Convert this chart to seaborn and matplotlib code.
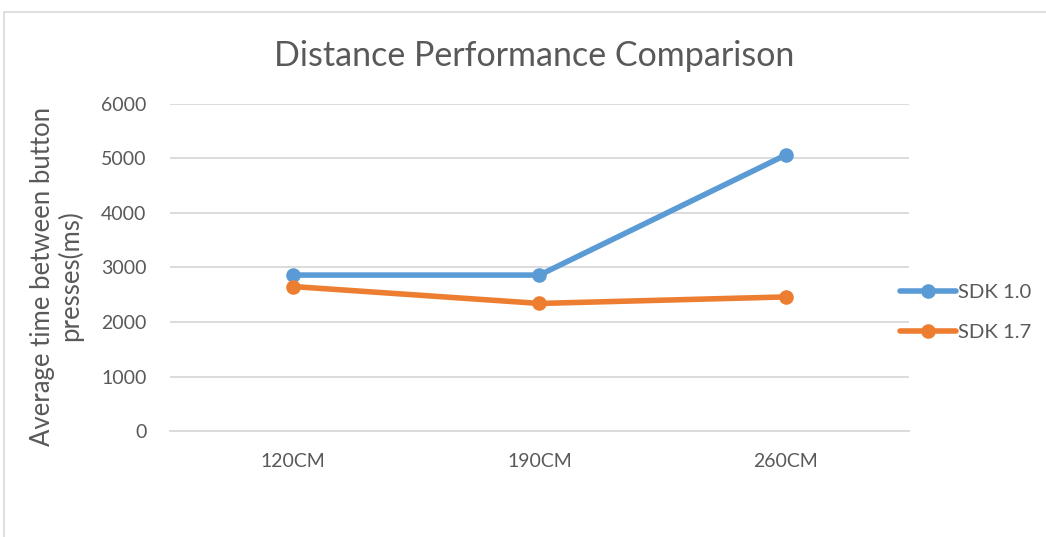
import matplotlib
matplotlib.use("Agg")
import matplotlib.pyplot as plt
from matplotlib.lines import Line2D
from matplotlib.patches import Rectangle
import seaborn as sns
import pandas as pd

distances = ["120CM", "190CM", "260CM"]
sdk_10 = [2860, 2860, 5060]
sdk_17 = [2650, 2340, 2460]
series_names = ["SDK 1.0", "SDK 1.7"]
y_ticks = [0, 1000, 2000, 3000, 4000, 5000, 6000]

df = pd.DataFrame({
    "distance": distances * 2,
    "time": sdk_10 + sdk_17,
    "series": [series_names[0]] * 3 + [series_names[1]] * 3,
})

sns.set_theme(style="white")
plt.rcParams["font.family"] = ["Lato", "DejaVu Sans"]

palette = {"SDK 1.0": "#5B9BD5", "SDK 1.7": "#ED7D31"}
text_color = "#595959"
grid_color = "#D9D9D9"

fig = plt.figure(figsize=(10.46, 5.37), dpi=100)
ax = fig.add_axes([0.1625, 0.197, 0.7065, 0.610])

sns.lineplot(data=df, x="distance", y="time", hue="series", palette=palette,
             marker="o", markersize=10.5, markeredgewidth=0, linewidth=4.0,
             sort=False, ax=ax, legend=False)

ax.set_xlim(-0.5, 2.5)
ax.set_ylim(0, 6000)
ax.set_yticks(y_ticks)
ax.set_yticklabels([str(v) for v in y_ticks])
for s in ["top", "right", "left"]:
    ax.spines[s].set_visible(False)
ax.spines["bottom"].set_color(grid_color)
ax.spines["bottom"].set_linewidth(1.3)
ax.yaxis.grid(True, color=grid_color, linewidth=1.3)
ax.set_axisbelow(True)
ax.tick_params(axis="both", length=0, colors=text_color, labelsize=14)
ax.tick_params(axis="y", pad=17)
ax.tick_params(axis="x", pad=16)
ax.set_xlabel("")
ax.set_ylabel("Average time between button\npresses(ms)", color=text_color,
              fontsize=18.5, linespacing=1.08)
ax.yaxis.set_label_coords(-0.118, 0.474)

fig.text(0.511, 0.895, "Distance Performance Comparison", ha="center",
         va="center", fontsize=24.5, color=text_color)

handles = [Line2D([0], [0], color=palette[n], linewidth=4.0, marker="o",
                  markersize=10.5, markeredgewidth=0) for n in series_names]
leg = fig.legend(handles, series_names, loc="center left",
                 bbox_to_anchor=(0.843, 0.418), frameon=False, fontsize=14.6,
                 handlelength=2.75, handletextpad=0.1, labelspacing=1.12,
                 labelcolor=text_color)

fig.patches.append(Rectangle((0.004, -0.1), 1.1, 1.078, transform=fig.transFigure,
                             fill=False, edgecolor="#D9D9D9", linewidth=1.2))

fig.savefig("out.png", dpi=100)
